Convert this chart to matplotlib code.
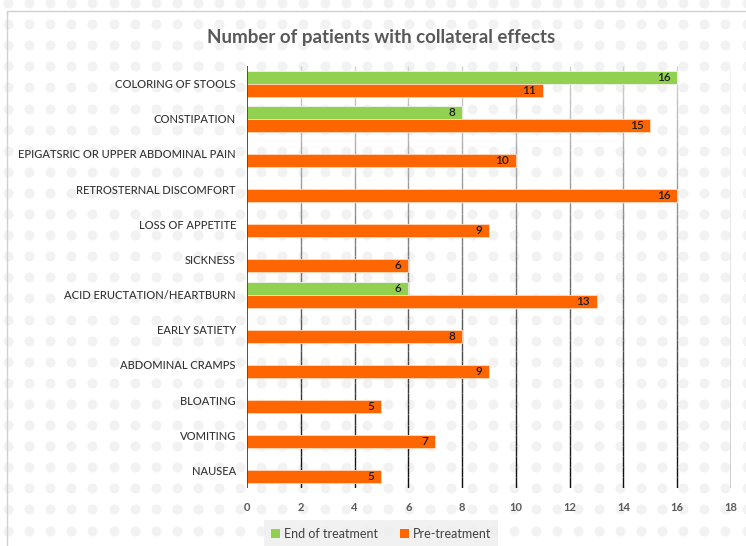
import matplotlib.pyplot as plt
import numpy as np
from matplotlib.patches import Patch, Rectangle

# --- data (top to bottom)
categories = ['COLORING OF STOOLS', 'CONSTIPATION', 'EPIGATSRIC OR UPPER ABDOMINAL PAIN',
              'RETROSTERNAL DISCOMFORT', 'LOSS OF APPETITE', 'SICKNESS',
              'ACID ERUCTATION/HEARTBURN', 'EARLY SATIETY', 'ABDOMINAL CRAMPS',
              'BLOATING', 'VOMITING', 'NAUSEA']
end_treatment = [16, 8, 0, 0, 0, 0, 6, 0, 0, 0, 0, 0]
pre_treatment = [11, 15, 10, 16, 9, 6, 13, 8, 9, 5, 7, 5]
xticks = [0, 2, 4, 6, 8, 10, 12, 14, 16, 18]

green = '#92d050'
orange = '#ff6600'

plt.rcParams['font.family'] = ['Lato', 'DejaVu Sans']

fig = plt.figure(figsize=(7.46, 5.46), dpi=100)

# --- dotted background + chart border
bg = fig.add_axes([0, 0, 1, 1], zorder=0)
bg.set_xlim(0, 746)
bg.set_ylim(546, 0)
bg.axis('off')
gx, gy = np.meshgrid(np.arange(8, 760, 21.1), np.arange(3, 560, 21.1))
bg.scatter(gx.ravel(), gy.ravel(), s=52, color='#f2f2f2', linewidths=0)
bg.add_patch(Rectangle((7, 11), 760, 560, fill=False, edgecolor='#d0d0d0', linewidth=1))

ax = fig.add_axes([0.3311, 0.1062, 0.6488, 0.7729], zorder=1)
ax.patch.set_alpha(0)

y = np.arange(len(categories))
h = 0.37

# gridlines with a light-to-dark gradient
nseg = 40
edges = np.linspace(-0.5, len(categories) - 0.5, nseg + 1)
for k in range(nseg):
    t = k / (nseg - 1)
    g = 0.82 * (1 - t) + 0.05 * t
    ax.vlines(xticks[1:], edges[k], edges[k + 1], color=(g, g, g), linewidth=1, zorder=1)
ax.vlines(0, -0.5, len(categories) - 0.5, color='#333333', linewidth=1.2, zorder=3)

ax.barh(y - h / 2, end_treatment, height=h, color=green, edgecolor='#f2f2f2', linewidth=0.6, zorder=2)
ax.barh(y + h / 2, pre_treatment, height=h, color=orange, edgecolor='#ffd9bf', linewidth=0.6, zorder=2)

for i in range(len(categories)):
    if end_treatment[i] > 0:
        ax.annotate(str(end_treatment[i]), (end_treatment[i], y[i] - h / 2), xytext=(-5, 0),
                    textcoords='offset points', ha='right', va='center', fontsize=8.5,
                    fontweight='semibold', color='#1a1a1a')
    if pre_treatment[i] > 0:
        ax.annotate(str(pre_treatment[i]), (pre_treatment[i], y[i] + h / 2), xytext=(-5, 0),
                    textcoords='offset points', ha='right', va='center', fontsize=8.5,
                    fontweight='semibold', color='#1a1a1a')

ax.set_xlim(0, 18)
ax.set_ylim(len(categories) - 0.5, -0.5)
ax.set_xticks(xticks)
ax.set_xticklabels([str(v) for v in xticks], fontsize=8, fontweight='bold', color='#595959')
ax.set_yticks(y)
ax.set_yticklabels(categories, fontsize=8, color='#333333', fontweight='medium')
ax.tick_params(axis='x', length=0, pad=10)
ax.tick_params(axis='y', length=0, pad=8)
for s in ax.spines.values():
    s.set_visible(False)

fig.text(381 / 746, 1 - 37 / 546, 'Number of patients with collateral effects', ha='center',
         va='center', fontsize=13.5, fontweight='bold', color='#595959')

handles = [Patch(facecolor=green, label='End of treatment'),
           Patch(facecolor=orange, label='Pre-treatment')]
leg = fig.legend(handles=handles, loc='upper center', bbox_to_anchor=(381 / 746, 1 - 520 / 546),
                 ncol=2, frameon=True, fontsize=9, handlelength=0.7, handleheight=0.7,
                 handletextpad=0.3, columnspacing=1.8, borderpad=0.6, borderaxespad=0,
                 fancybox=False)
leg.get_frame().set_facecolor('#eeeeee')
leg.get_frame().set_edgecolor('none')
for t in leg.get_texts():
    t.set_color('#404040')

plt.savefig('out.png', dpi=100)
